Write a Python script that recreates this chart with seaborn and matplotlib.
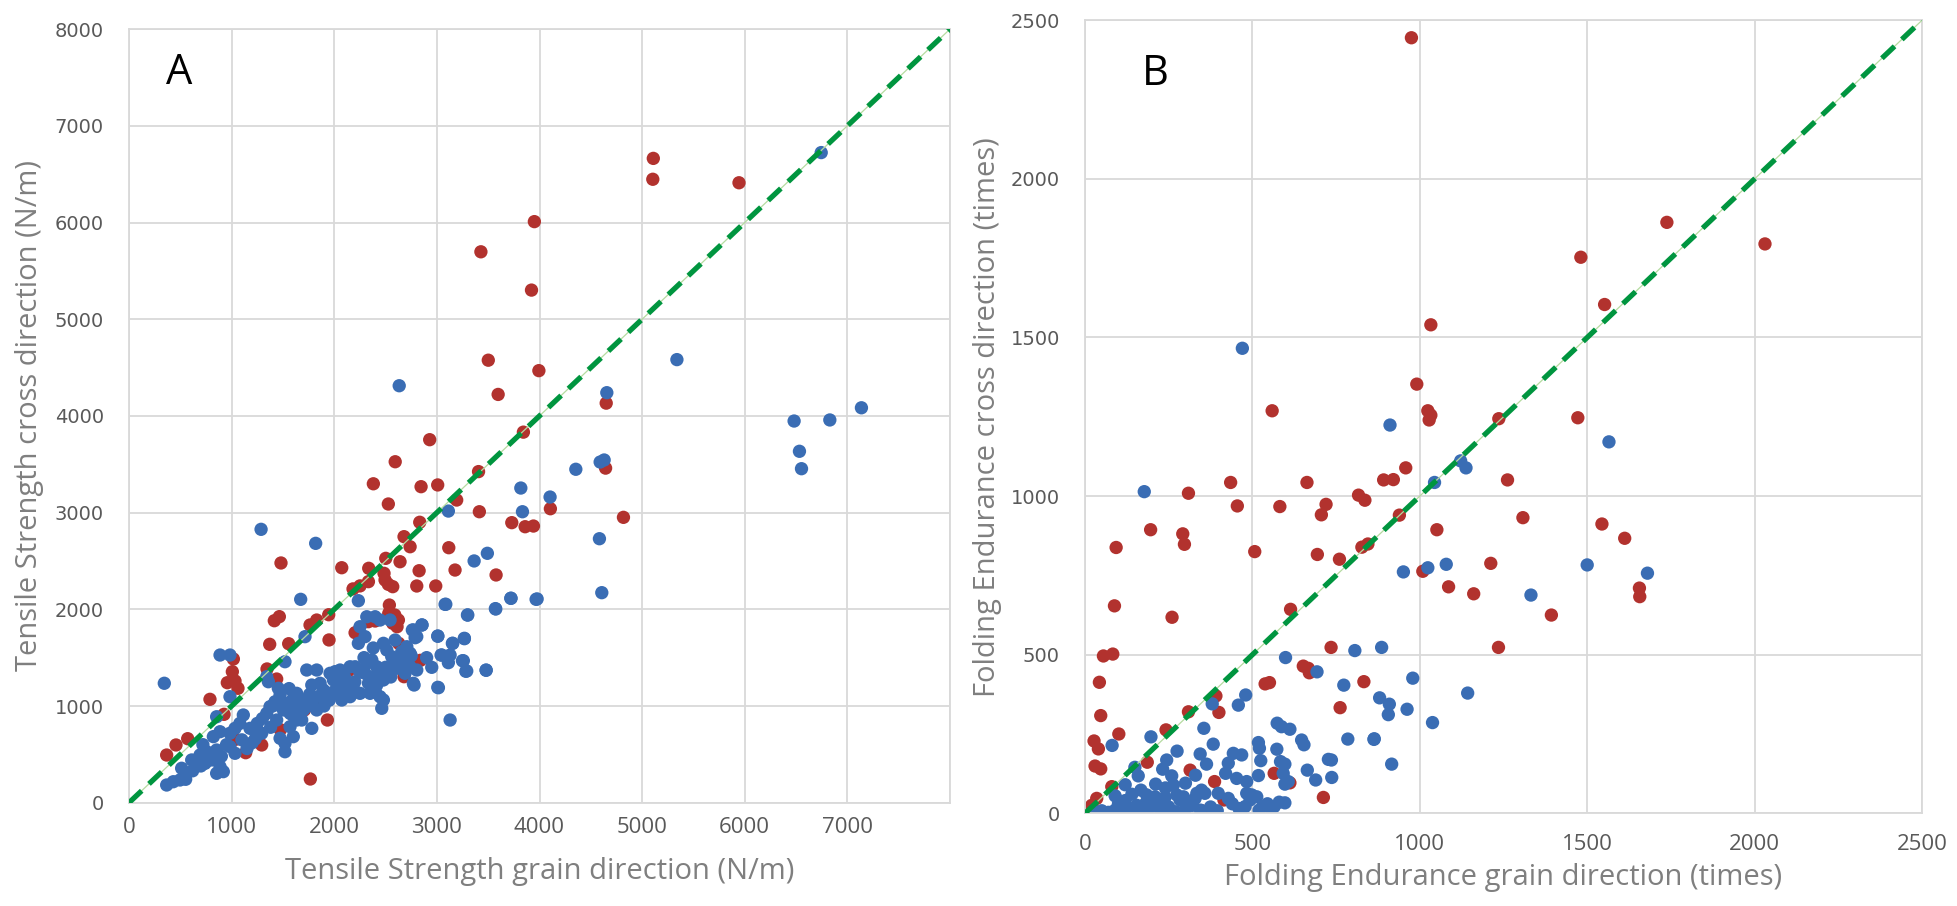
import numpy as np
import pandas as pd
import matplotlib
matplotlib.use("Agg")
import matplotlib.pyplot as plt
import seaborn as sns

# ---------------- Panel A data (Tensile strength, N/m) ----------------
a_red_x = [5109, 5104, 5944, 3950, 3429, 3922, 3501, 3994, 3597, 4650, 2930, 3843, 2594, 3406, 4644,
           2381, 2846, 3008, 3193, 2527, 3414, 4106, 4818, 2833, 3730, 3860, 3941, 3116, 2680, 2739,
           1481, 2073, 2336, 2502, 2641, 2827, 3177, 3577, 2183, 2251, 2333, 2485, 2495, 2527, 2570,
           2804, 2989, 2537, 2531, 2590, 2570, 2625, 2612, 2333, 2398, 2203, 1946, 1416, 1465, 1764,
           1829, 1949, 1556, 1371, 2628, 2609, 2839, 2680, 1345, 1439, 2138, 1007, 1017, 958, 1033,
           1062, 789, 926, 1862, 1709, 1933, 1475, 1040, 1137, 1293, 572, 458, 367, 1767]
a_red_y = [6663, 6447, 6411, 6009, 5697, 5301, 4576, 4468, 4222, 4132, 3754, 3832, 3526, 3424, 3460,
           3298, 3268, 3286, 3130, 3089, 3009, 3040, 2951, 2900, 2896, 2854, 2861, 2637, 2751, 2647,
           2479, 2430, 2424, 2527, 2492, 2399, 2406, 2355, 2211, 2242, 2286, 2372, 2303, 2258, 2234,
           2241, 2241, 2044, 1958, 1941, 1855, 1889, 1820, 1872, 1879, 1758, 1944, 1882, 1924, 1838,
           1889, 1683, 1644, 1638, 1648, 1458, 1472, 1303, 1383, 1279, 1365, 1355, 1486, 1241, 1259,
           1183, 1069, 914, 1041, 959, 855, 755, 656, 517, 597, 662, 597, 493, 245]

a_blue_x = [6745, 5339, 2633, 4656, 7137, 6481, 6829, 6533, 6553, 4354, 4591, 4630, 3818, 3834, 4103,
            3112, 4584, 1287, 1819, 3363, 3492, 4607, 1673, 2235, 3087, 3723, 3977, 3570, 3301, 2856,
            2761, 2788, 3009, 3155, 3268, 3041, 3129, 3112, 3258, 3282, 3480, 3009, 2778, 3129, 344,
            367, 432, 497, 552, 513, 611, 692, 757, 822, 660, 741, 806, 887, 854, 919,
            854, 822, 887, 854, 984, 1033, 1033, 984, 1114, 1179, 1244, 1293, 887, 984, 984,
            1342, 1358, 1455, 1472, 1520, 1342, 1374, 1423, 1439, 1504, 1537, 1569, 1601, 1634, 1520,
            1520, 1472, 1601, 1569, 1634, 1699, 1683, 1732, 1781, 1829, 1732, 1829, 1781, 1862, 1894,
            1943, 1781, 1959, 2008, 2057, 1992, 2040, 2089, 2024, 2073, 2154, 2186, 2251, 2154, 2203,
            2251, 2235, 2300, 2317, 2398, 2446, 2317, 2366, 2414, 2300, 2382, 2446, 2333, 2414, 2479,
            2349, 2446, 2463, 2479, 2479, 2512, 2560, 2658, 2707, 2739, 2593, 2771, 2804, 2853, 2609,
            2690, 2739, 2771, 2804, 2544, 1715, 3080, 3298, 3574, 3720, 3967, 3015, 3480, 3009, 3151,
            3268, 3048, 3249, 3291, 700, 780, 900, 950, 1100, 1150, 1200, 1250, 1300, 1380, 1400,
            1600, 1650, 1700, 1850, 1900, 1950, 2000, 2100, 2100, 2200, 2250, 2400, 2500, 2550, 2600,
            2650, 2700, 2900, 2950, 2720, 2750, 620, 560, 720, 1080, 1230, 1560, 1760, 2290, 2380]
a_blue_y = [6723, 4582, 4312, 4240, 4084, 3947, 3958, 3634, 3454, 3448, 3523, 3544, 3254, 3009, 3161,
            3016, 2730, 2827, 2682, 2500, 2579, 2172, 2103, 2089, 2052, 2114, 2107, 2007, 1941, 1838,
            1786, 1706, 1721, 1648, 1696, 1527, 1527, 1448, 1468, 1359, 1369, 1193, 1217, 855, 1235,
            183, 217, 235, 242, 356, 442, 493, 527, 511, 424, 407, 442, 372, 304, 321,
            545, 683, 734, 889, 579, 511, 769, 718, 907, 769, 700, 718, 1527, 1527, 1096,
            1303, 1251, 1183, 1114, 1458, 924, 993, 1044, 855, 959, 1027, 924, 1079, 1131, 614,
            527, 666, 683, 786, 855, 959, 855, 993, 1044, 959, 1372, 1372, 1217, 1235, 1166,
            1131, 769, 1338, 1355, 1372, 1269, 1200, 1235, 1131, 1062, 1096, 1183, 1131, 1406, 1406,
            1820, 1648, 1717, 1923, 1923, 1889, 1441, 1476, 1406, 1338, 1303, 1338, 1235, 1217, 1269,
            1131, 1096, 976, 1062, 1648, 1579, 1510, 1562, 1613, 1545, 1682, 1786, 1717, 1838, 1390,
            1338, 1406, 1235, 1372, 1889, 1717, 2051, 1941, 2003, 2114, 2103, 1189, 1372, 1724, 1648,
            1700, 1527, 1468, 1362, 380, 460, 480, 600, 650, 560, 620, 820, 870, 780, 1000,
            900, 1000, 1050, 1100, 1000, 1060, 1150, 1150, 1300, 1250, 1350, 1150, 1400, 1300, 1450,
            1500, 1450, 1500, 1400, 1440, 1520, 330, 300, 600, 820, 660, 1180, 1120, 1500, 1600]

# ---------------- Panel B data (Folding endurance, times) ----------------
b_red_x = [975, 1738, 2031, 1481, 1552, 1033, 991, 1024, 1033, 1028, 559, 1236, 1472, 892, 921,
           958, 435, 663, 1262, 309, 455, 582, 720, 706, 817, 836, 939, 1308, 1544, 1612,
           1051, 196, 292, 297, 93, 507, 694, 827, 845, 760, 1009, 1212, 1086, 1161, 1656,
           1657, 1393, 88, 260, 614, 55, 83, 43, 47, 27, 40, 101, 30, 47, 186,
           242, 309, 391, 400, 314, 387, 415, 349, 35, 80, 538, 551, 565, 612, 652,
           667, 670, 712, 735, 762, 833, 1235, 10, 20, 5, 15]
b_red_y = [2445, 1863, 1795, 1753, 1604, 1540, 1353, 1269, 1255, 1240, 1269, 1244, 1247, 1051, 1052,
           1089, 1043, 1043, 1051, 1009, 969, 967, 974, 941, 1003, 987, 940, 932, 912, 867,
           894, 894, 881, 848, 838, 825, 816, 839, 849, 801, 763, 788, 714, 692, 710,
           683, 625, 654, 618, 643, 496, 502, 413, 308, 228, 203, 250, 149, 140, 161,
           263, 320, 370, 318, 136, 100, 42, 8, 47, 84, 408, 412, 126, 96, 464,
           457, 443, 50, 523, 333, 415, 523, 10, 25, 5, 15]

b_blue_x = [470, 911, 1565, 177, 1122, 1138, 1044, 1079, 1500, 1024, 951, 1680, 1332, 1143, 599,
            693, 806, 886, 979, 773, 880, 909, 906, 962, 1038, 916, 864, 785, 863, 736,
            480, 458, 380, 355, 197, 81, 275, 244, 232, 149, 159, 259, 211, 264, 167,
            184, 209, 239, 224, 274, 294, 284, 334, 348, 358, 329, 383, 344, 363, 420,
            428, 443, 468, 453, 398, 428, 483, 483, 498, 478, 493, 513, 518, 521, 525,
            518, 531, 553, 565, 573, 574, 587, 612, 584, 597, 592, 607, 597, 597, 647,
            654, 664, 689, 727, 737, 30, 50, 70, 90, 110, 125, 140, 155, 170, 190,
            205, 225, 250, 270, 300, 320, 345, 375, 395, 440, 460, 520, 545, 580, 120,
            140, 100, 180, 240, 300, 330, 120, 90]
b_blue_y = [1466, 1224, 1171, 1014, 1111, 1089, 1043, 785, 783, 774, 761, 757, 688, 379, 491,
            446, 513, 523, 426, 404, 364, 344, 311, 328, 286, 155, 235, 234, 233, 168,
            373, 341, 345, 268, 241, 214, 196, 168, 139, 145, 118, 118, 92, 89, 73,
            58, 52, 50, 37, 58, 52, 42, 63, 73, 63, 47, 218, 187, 155, 126,
            158, 189, 184, 110, 63, 47, 100, 63, 58, 21, 42, 52, 223, 205, 166,
            119, 21, 18, 21, 202, 284, 273, 265, 163, 155, 126, 100, 92, 33, 231,
            216, 136, 105, 170, 113, 5, 8, 3, 10, 12, 20, 8, 25, 5, 15,
            30, 10, 20, 5, 15, 25, 10, 20, 8, 30, 15, 10, 30, 35, 40,
            60, 30, 30, 80, 95, 120, 90, 55]

group_labels = ["red", "blue"]
palette = {"red": "#B2322E", "blue": "#3A6DB4"}

dfA = pd.DataFrame({
    "x": a_red_x + a_blue_x,
    "y": a_red_y + a_blue_y,
    "g": [group_labels[0]] * len(a_red_x) + [group_labels[1]] * len(a_blue_x),
})
dfB = pd.DataFrame({
    "x": b_red_x + b_blue_x,
    "y": b_red_y + b_blue_y,
    "g": [group_labels[0]] * len(b_red_x) + [group_labels[1]] * len(b_blue_x),
})

a_ticks = [0, 1000, 2000, 3000, 4000, 5000, 6000, 7000, 8000]
a_xticklabels = ["0", "1000", "2000", "3000", "4000", "5000", "6000", "7000", ""]
b_ticks = [0, 500, 1000, 1500, 2000, 2500]

sns.set_style("white")
plt.rcParams["font.family"] = ["Open Sans", "DejaVu Sans"]

W, H = 1958, 906
fig = plt.figure(figsize=(W / 100, H / 100), dpi=100)
axA = fig.add_axes([129 / W, 1 - 802.7 / H, (950 - 129) / W, (802.7 - 29.1) / H])
axB = fig.add_axes([1085 / W, 1 - 813.3 / H, (1922 - 1085) / W, (813.3 - 20.3) / H])

grid_c = "#d9d9d9"
tick_c = "#595959"
lab_c = "#7f7f7f"
green = "#00953F"


def style(ax, ticks, xlabels, lim, xlab, ylab, xpad, ypad, xlp, ylp):
    ax.set_xlim(0, lim)
    ax.set_ylim(0, lim)
    ax.set_xticks(ticks)
    ax.set_yticks(ticks)
    ax.set_xticklabels(xlabels)
    ax.set_yticklabels([str(t) for t in ticks])
    ax.grid(True, color=grid_c, lw=1.3)
    ax.set_axisbelow(True)
    for s in ax.spines.values():
        s.set_color(grid_c)
        s.set_linewidth(1.3)
    ax.tick_params(axis="x", length=0, pad=xpad, labelsize=16, colors=tick_c)
    ax.tick_params(axis="y", length=0, pad=ypad, labelsize=14, colors=tick_c)
    for lbl in ax.get_yticklabels():
        lbl.set_family(["DejaVu Sans"])
    ax.set_xlabel(xlab, fontsize=21, color=lab_c, labelpad=xlp)
    ax.set_ylabel(ylab, fontsize=21, color=lab_c, labelpad=ylp)


for ax, df, lim in [(axA, dfA, 8000), (axB, dfB, 2500)]:
    sns.scatterplot(data=df, x="x", y="y", hue="g", palette=palette, s=92,
                    edgecolor="none", linewidth=0, legend=False, ax=ax, zorder=2)
    ax.plot([0, lim], [0, lim], color="#b5dba0", lw=0.9, zorder=3)
    ax.plot([0, lim], [0, lim], color=green, lw=3.8, ls=(0, (3.3, 1.9)), zorder=4,
            solid_capstyle="butt", dash_capstyle="butt")

style(axA, a_ticks, a_xticklabels, 8000,
      "Tensile Strength grain direction (N/m)", "Tensile Strength cross direction (N/m)",
      10, 18, 14, 8)
style(axB, b_ticks, [str(t) for t in b_ticks], 2500,
      "Folding Endurance grain direction (times)", "Folding Endurance cross direction (times)",
      15, 18, 6, 6)

axA.text(486, 7545, "A", fontsize=30, color="black", ha="center", va="center")
axB.text(211, 2331, "B", fontsize=30, color="black", ha="center", va="center")

fig.savefig("out.png", dpi=100, facecolor="white")
